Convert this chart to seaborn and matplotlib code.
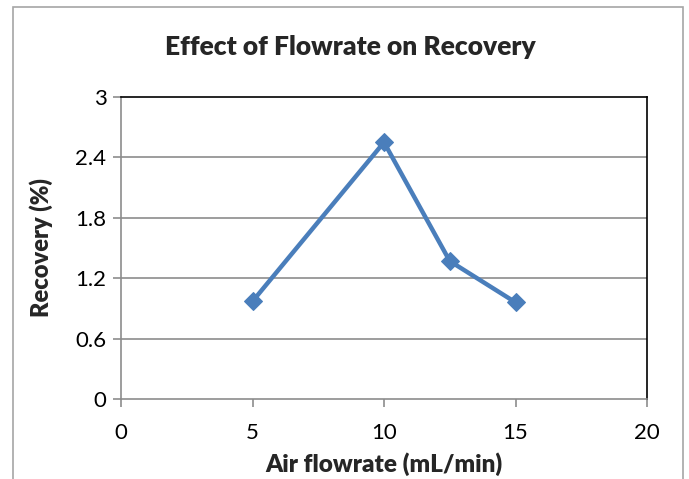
import matplotlib
matplotlib.use("Agg")
import matplotlib.pyplot as plt
from matplotlib.patches import Rectangle
import seaborn as sns
import pandas as pd

# Recovery measured at each air flowrate
flowrate = [5, 10, 12.5, 15]
recovery = [0.97, 2.55, 1.37, 0.96]
x_ticks = [0, 5, 10, 15, 20]
y_ticks = [0, 0.6, 1.2, 1.8, 2.4, 3]
y_tick_labels = ["0", "0.6", "1.2", "1.8", "2.4", "3"]

sns.set_theme(style="white")
plt.rcParams["font.family"] = ["Lato", "DejaVu Sans"]

df = pd.DataFrame({"flowrate": flowrate, "recovery": recovery})

W, H = 689, 479
fig = plt.figure(figsize=(W / 100, H / 100), dpi=100)
ax_left, ax_right, ax_top, ax_bottom = 121, 647, 97, 399
ax = fig.add_axes([ax_left / W, 1 - ax_bottom / H,
                   (ax_right - ax_left) / W, (ax_bottom - ax_top) / H])

# Chart frame around the whole figure
fig.patches.append(Rectangle((13 / W, -0.05), (683 - 13) / W, 1 - 7 / H + 0.05,
                             transform=fig.transFigure, fill=False,
                             edgecolor="#a6a6a6", linewidth=1.2, zorder=0))

sns.lineplot(data=df, x="flowrate", y="recovery", ax=ax, color="#4A7EBB",
             linewidth=3.2, marker="D", markersize=9.5, markeredgecolor="#4A7EBB",
             zorder=5)

ax.set_xlim(0, 20)
ax.set_ylim(0, 3)
ax.set_xticks(x_ticks)
ax.set_yticks(y_ticks)
ax.set_yticklabels(y_tick_labels)

for y in y_ticks[1:-1]:
    ax.axhline(y, color="#8c8c8c", linewidth=1.2, zorder=1)

for side in ["top", "right"]:
    ax.spines[side].set_color("black")
    ax.spines[side].set_linewidth(1.2)
for side in ["left", "bottom"]:
    ax.spines[side].set_color("#8c8c8c")
    ax.spines[side].set_linewidth(1.2)

ax.tick_params(axis="both", which="major", direction="out", length=5.5, width=1.2,
               color="#8c8c8c", labelsize=16, labelcolor="black")
ax.tick_params(axis="x", bottom=True, pad=12)
ax.tick_params(axis="y", left=True, pad=5)

ax.set_xlabel("Air flowrate (mL/min)", fontsize=17.5, fontweight="heavy")
ax.set_ylabel("Recovery (%)", fontsize=17, fontweight="heavy")
ax.xaxis.set_label_coords(0.5, (ax_bottom - 464) / (ax_bottom - ax_top))
ax.xaxis.label.set_va("center")
ax.yaxis.set_label_coords((41 - ax_left) / (ax_right - ax_left), 0.5)
ax.yaxis.label.set_va("center")

fig.text(350 / W, 1 - 47 / H, "Effect of Flowrate on Recovery", ha="center",
         va="center", fontsize=19, fontweight="heavy")

fig.savefig("out.png", dpi=100)
